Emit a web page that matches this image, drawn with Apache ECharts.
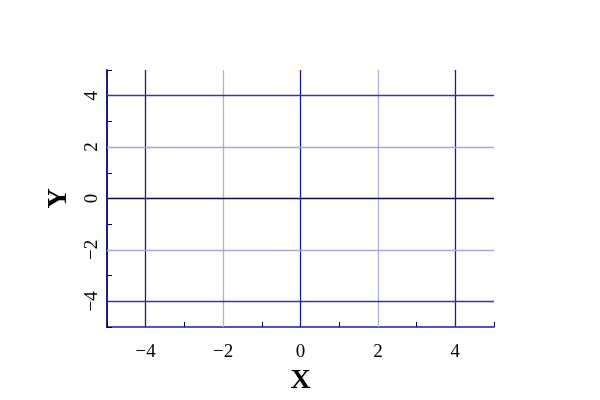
<!DOCTYPE html>
<html><head><meta charset="utf-8">
<script src="https://cdn.jsdelivr.net/npm/echarts@6/dist/echarts.min.js"></script>
<style>html,body{margin:0;padding:0;background:#fff}#c{width:600px;height:400px}</style>
</head><body><div id="c"></div>
<script>
const xRange = [-5, 5];
const yRange = [-5, 5];
const xTickLabels = [-4, -2, 0, 2, 4];
const yTickLabels = [-4, -2, 0, 2, 4];
const xName = 'X';
const yName = 'Y';

// grid line colours (styles), one per tick label
const xGridColors = ['#1c1c70', '#b0b0e0', '#1a1aa0', '#b0b0e0', '#1c1c80'];
const yGridColors = ['#3434b0', '#a8a8d8', '#0a0a50', '#a8a8d8', '#3434b0'];

function fmt(v, list) {
  if (list.indexOf(v) < 0) return '';
  return String(v).replace('-', '\u2212');
}
const font = '"Liberation Serif", "DejaVu Serif", serif';
const gridLines = [];
xTickLabels.forEach((v, i) => gridLines.push({ xAxis: v, lineStyle: { color: xGridColors[i], width: 1.3, type: 'solid' } }));
yTickLabels.forEach((v, i) => gridLines.push({ yAxis: v, lineStyle: { color: yGridColors[i], width: 1.3, type: 'solid' } }));

const chart = echarts.init(document.getElementById('c'));
chart.setOption({
  animation: false,
  grid: { left: 107, right: 106, top: 70, bottom: 73, containLabel: false },
  xAxis: {
    type: 'value', min: xRange[0], max: xRange[1], interval: 1,
    name: xName, nameLocation: 'middle', nameGap: 38,
    nameTextStyle: { fontFamily: font, fontSize: 28, fontWeight: 'bold', color: '#000' },
    axisLine: { onZero: false, lineStyle: { color: '#1c1c9c', width: 1.5 } },
    axisTick: { inside: true, length: 5, lineStyle: { color: '#000060' } },
    axisLabel: { formatter: v => fmt(v, xTickLabels), margin: 16, fontFamily: font, fontSize: 19, color: '#000' },
    splitLine: { show: false }
  },
  yAxis: {
    type: 'value', min: yRange[0], max: yRange[1], interval: 1,
    name: yName, nameLocation: 'middle', nameGap: 34, nameRotate: 90,
    nameTextStyle: { fontFamily: font, fontSize: 28, fontWeight: 'bold', color: '#000' },
    axisLine: { show: true, onZero: false, lineStyle: { color: '#1c1c80', width: 2 } },
    axisTick: { show: true, inside: true, length: 5, lineStyle: { color: '#000060' } },
    axisLabel: { formatter: v => fmt(v, yTickLabels), rotate: 90, margin: 5, fontFamily: font, fontSize: 19, color: '#000' },
    splitLine: { show: false }
  },
  series: [{
    type: 'scatter', data: [], silent: true,
    markLine: { silent: true, symbol: 'none', label: { show: false }, animation: false, data: gridLines }
  }]
});
</script></body></html>
